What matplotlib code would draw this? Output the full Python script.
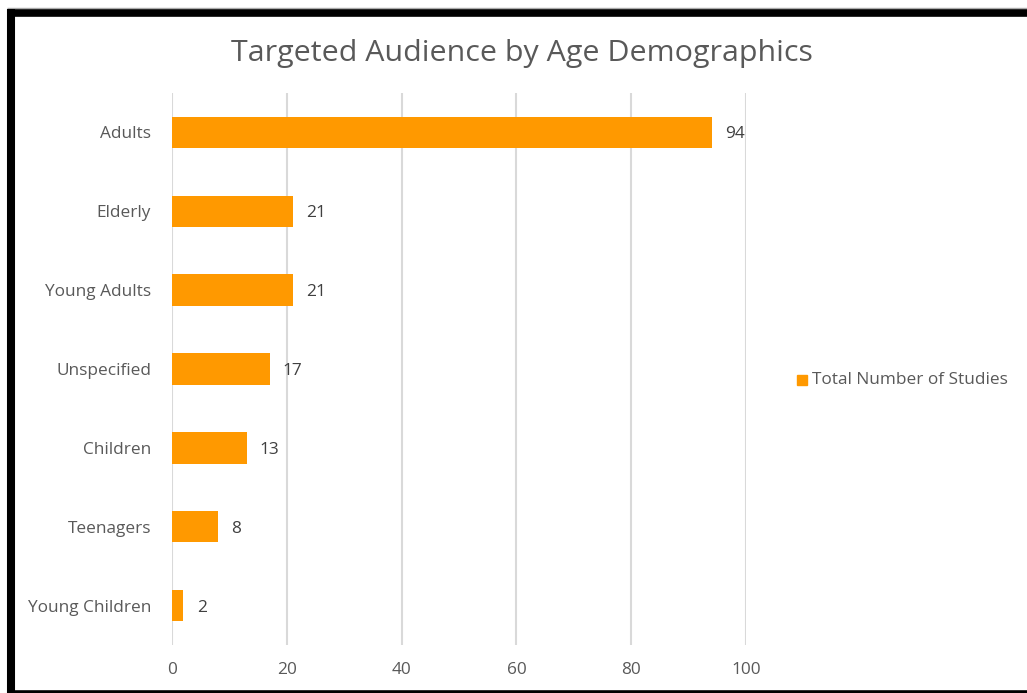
import matplotlib.pyplot as plt
from matplotlib.patches import Rectangle
from matplotlib.lines import Line2D

categories = ["Adults", "Elderly", "Young Adults", "Unspecified", "Children", "Teenagers", "Young Children"]
studies = [94, 21, 21, 17, 13, 8, 2]
xticks = [0, 20, 40, 60, 80, 100]

plt.rcParams['font.family'] = ['Open Sans', 'DejaVu Sans']

W, H = 1027, 693
fig = plt.figure(figsize=(W / 100, H / 100), dpi=100)

# axes region in pixel terms
x0, x1 = 172, 746
y_top, y_bot = 93, 645
ax = fig.add_axes([x0 / W, 1 - y_bot / H, (x1 - x0) / W, (y_bot - y_top) / H])

orange = "#FF9900"
ypos = list(range(len(categories)))
ax.barh(ypos, studies, height=0.4, color=orange, zorder=3)
ax.set_ylim(len(categories) - 0.5, -0.5)
ax.set_xlim(0, 100)
ax.set_xticks(xticks)
ax.set_yticks(ypos)
ax.set_yticklabels(categories)
ax.tick_params(axis='both', length=0, colors="#595959", labelsize=12.4)
ax.tick_params(axis='y', pad=15)
ax.tick_params(axis='x', pad=12)
for s in ax.spines.values():
    s.set_visible(False)
ax.grid(axis='x', color="#D9D9D9", linewidth=1.5, zorder=0)
ax.set_axisbelow(True)

for y, v in zip(ypos, studies):
    ax.annotate(str(v), (v, y), xytext=(9.5, 0), textcoords='offset points',
                ha='left', va='center_baseline', fontsize=12.4, color="#404040")

fig.text(522 / W, 1 - 54 / H, "Targeted Audience by Age Demographics",
         ha='center', va='center', fontsize=21.9, color="#595959")

# legend
fig.patches.append(Rectangle((797 / W, 1 - 385 / H), 10 / W, 10 / H,
                             transform=fig.transFigure, color=orange))
fig.text(812 / W, 1 - 380 / H, "Total Number of Studies", ha='left', va='center',
         fontsize=12.4, color="#595959")

# frame
def hline(y, lw, color="black"):
    fig.lines.append(Line2D([7 / W, 1], [1 - y / H] * 2, transform=fig.transFigure,
                            color=color, linewidth=lw, solid_capstyle='butt'))

hline(8, 1, "#AAAAAA")
hline(12.5, 5.5)
hline(691.5, 2.6)
fig.lines.append(Line2D([11 / W] * 2, [1 - 9 / H, 1 - 693 / H], transform=fig.transFigure,
                        color="black", linewidth=5.8, solid_capstyle='butt'))

fig.savefig("out.png", dpi=100)
